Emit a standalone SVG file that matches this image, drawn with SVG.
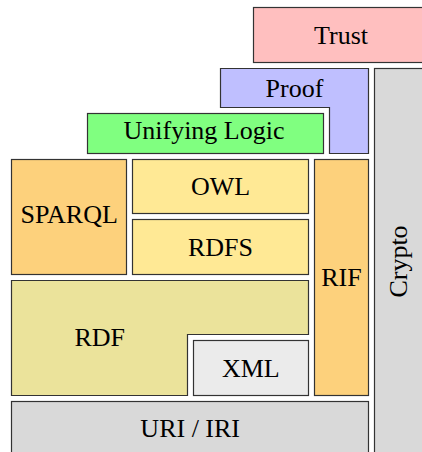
<svg xmlns="http://www.w3.org/2000/svg" width="422" height="452" viewBox="0 0 422 452">
<style>
.b{stroke:#333;stroke-width:1.2}
text{font-family:'Liberation Serif','DejaVu Serif',serif;font-size:26px;fill:#000;text-anchor:middle}
</style>
<rect width="422" height="452" fill="#fff"/>
<g id="trust"><rect class="b" x="253.5" y="7.5" width="175" height="55" fill="#ffbfbf"/><text font-family="Liberation Serif" x="341" y="44">Trust</text></g>
<g id="proof"><path class="b" d="M220.5,68.5 H368.5 V153.5 H329.5 V107.5 H220.5 Z" fill="#bfbfff"/><text font-family="Liberation Serif" x="294.5" y="96.5">Proof</text></g>
<g id="crypto"><rect class="b" x="374.5" y="68.5" width="60" height="400" fill="#d9d9d9"/><text font-family="Liberation Serif" transform="translate(407,261.5) rotate(-90)" x="0" y="0">Crypto</text></g>
<g id="unifying-logic"><rect class="b" x="87.5" y="113.5" width="236" height="40" fill="#80ff80"/><text font-family="Liberation Serif" x="204" y="139.3">Unifying Logic</text></g>
<g id="sparql"><rect class="b" x="11.5" y="159.5" width="115" height="115" fill="#fdd17c"/><text font-family="Liberation Serif" x="69.2" y="223.3">SPARQL</text></g>
<g id="owl"><rect class="b" x="132.5" y="159.5" width="176" height="54" fill="#ffe995"/><text font-family="Liberation Serif" x="220.5" y="195">OWL</text></g>
<g id="rdfs"><rect class="b" x="132.5" y="219.5" width="176" height="55" fill="#ffe995"/><text font-family="Liberation Serif" x="220.5" y="256">RDFS</text></g>
<g id="rif"><rect class="b" x="314.5" y="159.5" width="54" height="236" fill="#fdd17c"/><text font-family="Liberation Serif" x="341.5" y="286">RIF</text></g>
<g id="rdf"><path class="b" d="M11.5,280.5 H308.5 V334.5 H187.5 V395.5 H11.5 Z" fill="#ebe39b"/><text font-family="Liberation Serif" x="99.7" y="345.7">RDF</text></g>
<g id="xml"><rect class="b" x="193.5" y="340.5" width="115" height="55" fill="#ebebeb"/><text font-family="Liberation Serif" x="250.8" y="377.3">XML</text></g>
<g id="uri-iri"><rect class="b" x="11.5" y="401.5" width="357" height="60" fill="#d9d9d9"/><text font-family="Liberation Serif" x="190.2" y="436.7">URI / IRI</text></g>
<g id="connectors"/>
</svg>
